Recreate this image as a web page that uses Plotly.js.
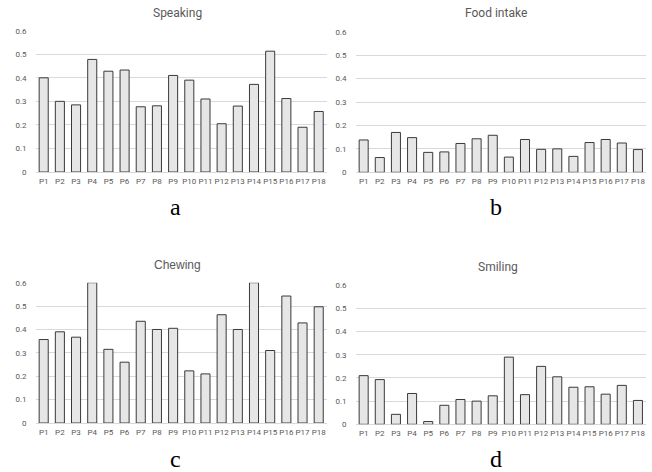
<!DOCTYPE html>
<html><head><meta charset="utf-8">
<script src="https://cdn.plot.ly/plotly-3.0.1.min.js"></script>
<style>body{margin:0;background:#fff}#chart{width:652px;height:472px}</style>
</head><body><div id="chart"></div>
<script>
const categories = ["P1","P2","P3","P4","P5","P6","P7","P8","P9","P10","P11","P12","P13","P14","P15","P16","P17","P18"];
const speaking = [0.40,0.30,0.285,0.478,0.428,0.433,0.277,0.281,0.41,0.39,0.31,0.205,0.28,0.372,0.513,0.312,0.19,0.257];
const foodIntake = [0.138,0.063,0.17,0.148,0.085,0.087,0.123,0.143,0.158,0.065,0.14,0.098,0.10,0.068,0.127,0.14,0.125,0.097];
const chewing = [0.357,0.39,0.367,0.60,0.315,0.26,0.435,0.40,0.405,0.223,0.21,0.463,0.40,0.60,0.31,0.543,0.428,0.497];
const smiling = [0.21,0.193,0.043,0.133,0.012,0.082,0.107,0.10,0.123,0.29,0.128,0.25,0.205,0.16,0.162,0.13,0.168,0.103];
const titles = ["Speaking","Food intake","Chewing","Smiling"];
const letters = ["a","b","c","d"];
const yTicks = [0,0.1,0.2,0.3,0.4,0.5,0.6];
const yTickText = ["0","0.1","0.2","0.3","0.4","0.5","0.6"];

const series = [speaking, foodIntake, chewing, smiling];
const W = 652, H = 472;
const boxes = [
  {x0:35.6, x1:326.8, yTop:30.7, yBot:172.0},
  {x0:355.6, x1:646.0, yTop:31.7, yBot:172.3},
  {x0:35.6, x1:326.8, yTop:282.7, yBot:423.0},
  {x0:355.6, x1:646.0, yTop:285.3, yBot:424.3}
];
const titlePos = [[177,13],[496,13],[177,265],[498,267]];
const letterPos = [[175,207],[496,207],[175,459],[496,459]];
const titleFonts = ["Roboto, sans-serif","Roboto, sans-serif","Liberation Sans, Arial, sans-serif","Roboto, sans-serif"];

const data = [];
const layout = {width:W, height:H, margin:{l:0,r:0,t:0,b:0}, showlegend:false,
  paper_bgcolor:"#fff", plot_bgcolor:"#fff", bargap:0.44, annotations:[]};
series.forEach((vals,i)=>{
  const n = i===0 ? "" : String(i+1);
  data.push({type:"bar", x:categories, y:vals, xaxis:"x"+n, yaxis:"y"+n,
    marker:{color:"#e6e6e6", line:{color:"#3a3a3a", width:1}}, hoverinfo:"x+y"});
  const b = boxes[i];
  layout["xaxis"+n] = {domain:[b.x0/W, b.x1/W], anchor:"y"+n, showgrid:false, zeroline:false,
    showline:false, ticks:"", tickangle:0, tickfont:{family:"Roboto, sans-serif", size:8, color:"#595959"},
    ticklabelstandoff:3, fixedrange:true};
  layout["yaxis"+n] = {domain:[1-b.yBot/H, 1-b.yTop/H], anchor:"x"+n, range:[0,0.6],
    tickvals:yTicks, ticktext:yTickText, showgrid:true, gridcolor:"#d9d9d9", gridwidth:1,
    zeroline:true, zerolinecolor:"#d9d9d9", zerolinewidth:1, showline:false, ticks:"",
    tickfont:{family:"Roboto, sans-serif", size:8, color:"#595959"}, ticklabelstandoff:8, fixedrange:true};
  layout.annotations.push({text:titles[i], xref:"paper", yref:"paper", x:titlePos[i][0]/W, y:1-titlePos[i][1]/H,
    xanchor:"center", yanchor:"middle", showarrow:false, font:{family:titleFonts[i], size:12, color:"#595959"}});
  layout.annotations.push({text:letters[i], xref:"paper", yref:"paper", x:letterPos[i][0]/W, y:1-letterPos[i][1]/H,
    xanchor:"center", yanchor:"middle", showarrow:false, font:{family:"Liberation Serif, serif", size:24, color:"#000"}});
});
Plotly.newPlot("chart", data, layout, {displayModeBar:false, staticPlot:true});
</script></body></html>
